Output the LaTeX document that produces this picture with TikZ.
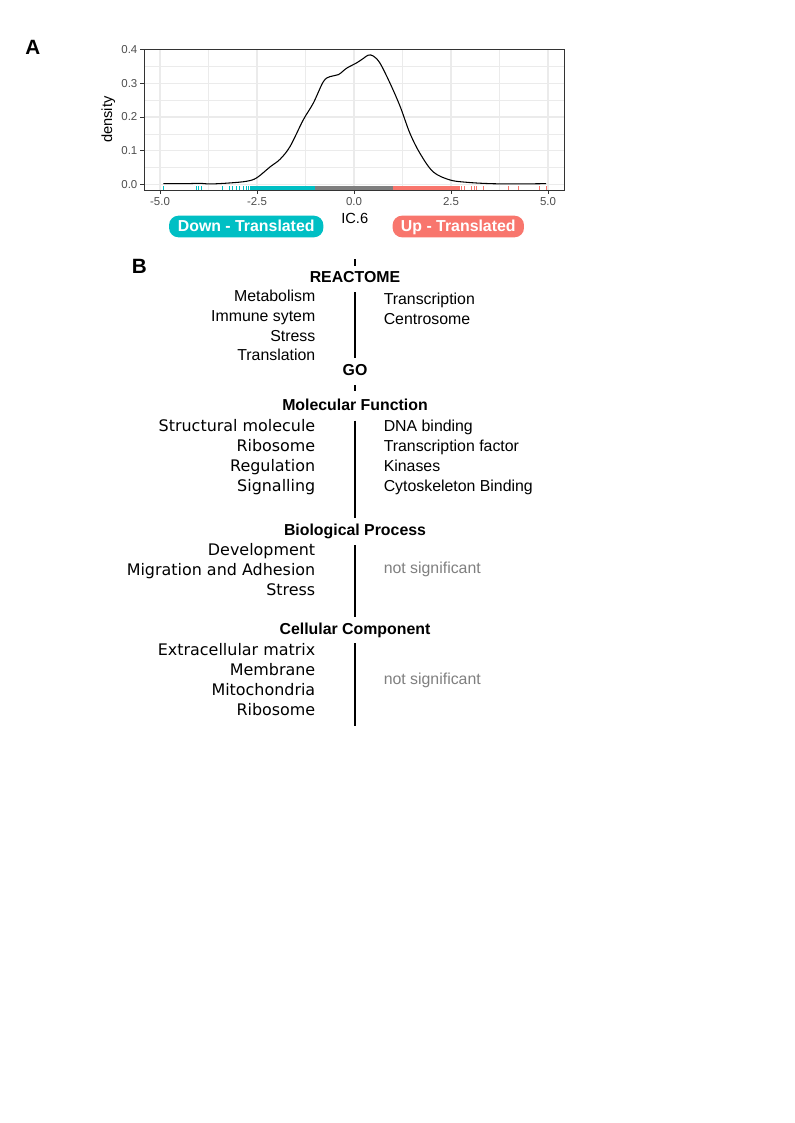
\documentclass[tikz,border=0pt]{standalone}
\usepackage{fontspec}
\setmainfont{Liberation Sans}
\newfontfamily\dejavu{DejaVu Sans}
\definecolor{downcol}{HTML}{00BFC4}
\definecolor{upcol}{HTML}{F8766D}
\definecolor{midcol}{HTML}{7F7F7F}
\definecolor{gridcol}{HTML}{EBEBEB}
\definecolor{tickcol}{HTML}{4D4D4D}
\definecolor{framecol}{HTML}{333333}

\begin{document}
\begin{tikzpicture}[x=0.75pt, y=-0.75pt,
  every node/.style={inner sep=0pt},
  panel/.style={font=\fontsize{15.5}{18}\selectfont\bfseries, anchor=base west},
  head/.style={font=\fontsize{11.9}{15}\selectfont\bfseries, anchor=base},
  lhs/.style={font=\fontsize{11.9}{15}\selectfont, anchor=base east},
  golhs/.style={font=\dejavu\fontsize{11.95}{15}\selectfont, anchor=base east},
  rhs/.style={font=\fontsize{11.9}{15}\selectfont, anchor=base west},
  ns/.style={rhs, text=midcol},
  divider/.style={line width=1.1pt},
  pill/.style={rounded corners=7pt, minimum height=16.2pt, text=white,
    font=\fontsize{11.9}{14}\selectfont\bfseries, text height=7.4pt, text depth=0pt},
  majorgrid/.style={gridcol, line width=0.8pt},
  minorgrid/.style={gridcol, line width=0.4pt},
  ticklab/.style={text=tickcol, font=\fontsize{8.6}{10}\selectfont},
  axtitle/.style={font=\fontsize{11}{13}\selectfont},
  rugtick/.style={line width=0.75pt}]
  \useasboundingbox (0,0) rectangle (794,1123);

  % panel A
  \node[panel] (A) at (25,55) {A};
  \begin{scope}[shift={(265.5pt,-138.225pt)}, x=29.1pt, y=252.375pt]
    \foreach \x in {-3.75,-1.25,1.25,3.75}
      \draw[minorgrid] (\x,-0.01694) -- (\x,0.4012);
    \foreach \y in {0.05,0.15,0.25,0.35}
      \draw[minorgrid] (-5.41,\y) -- (5.43,\y);
    \foreach \x in {-5,-2.5,0,2.5,5}
      \draw[majorgrid] (\x,-0.01694) -- (\x,0.4012);
    \foreach \y in {0,0.1,0.2,0.3,0.4}
      \draw[majorgrid] (-5.41,\y) -- (5.43,\y);

    % rug
    \fill[downcol] (-2.68,-0.01694) rectangle (-1.0,-0.0042);
    \fill[midcol] (-1.0,-0.01694) rectangle (1.0,-0.0042);
    \fill[upcol] (1.0,-0.01694) rectangle (2.72,-0.0042);
    \foreach \x in {-4.91,-4.07,-4.0,-3.94,-3.39,-3.2,-3.12,-3.04,-2.94,-2.86,-2.78,-2.72}
      \draw[rugtick, downcol] (\x,-0.01694) -- (\x,-0.0042);
    \foreach \x in {2.78,2.85,3.03,3.1,3.16,3.35,3.98,4.23,4.77,4.95}
      \draw[rugtick, upcol] (\x,-0.01694) -- (\x,-0.0042);

    % density
    \draw[line width=0.8pt, line join=round] plot[smooth, tension=0.55] coordinates {
      (-4.91,0.002) (-4.3,0.002) (-3.97,0.003) (-3.7,0.001) (-3.2,0.004)
      (-2.77,0.009) (-2.51,0.019) (-2.16,0.052) (-1.91,0.074) (-1.65,0.112)
      (-1.31,0.191) (-1.05,0.241) (-0.79,0.305) (-0.62,0.32) (-0.40,0.326)
      (-0.19,0.345) (0.07,0.361) (0.24,0.374) (0.37,0.384) (0.50,0.381)
      (0.67,0.36) (0.93,0.30) (1.19,0.231) (1.44,0.152) (1.70,0.092)
      (2.04,0.037) (2.47,0.013) (2.90,0.006) (3.5,0.002) (4.2,0.001) (4.95,0.002)};

    \draw[framecol, line width=0.6pt] (-5.41,-0.01694) rectangle (5.43,0.4012);
    \foreach \x/\t in {-5/-5.0,-2.5/-2.5,0/0.0,2.5/2.5,5/5.0} {
      \draw[framecol, line width=0.6pt] (\x,-0.01694) -- (\x,-0.0278);
      \node[ticklab, anchor=base] (xt\t) at (\x,-0.0636) {\t};
    }
    \foreach \y/\t in {0/0.0,0.1/0.1,0.2/0.2,0.3/0.3,0.4/0.4} {
      \draw[framecol, line width=0.6pt] (-5.41,\y) -- (-5.505,\y);
      \node[ticklab, anchor=east] (yt\t) at (-5.577,\y) {\t};
    }
  \end{scope}
  \node[axtitle, rotate=90] (ylab) at (108.3,119.7) {density};
  \node[axtitle, anchor=base] (xlab) at (354.7,223.3) {IC.6};
  \node[pill, fill=downcol, minimum width=115.7pt] (down) at (246.2,226.5) {Down - Translated};
  \node[pill, fill=upcol, minimum width=98.5pt] (up) at (458.3,226.5) {Up - Translated};

  % panel B
  \node[panel] (B) at (131.5,273.3) {B};
  \node[head] (react) at (355,282.3) {REACTOME};
  \node[head] (go) at (355,375.7) {GO};
  \node[head] (mf) at (355,410) {Molecular Function};
  \node[head] (bp) at (355,535) {Biological Process};
  \node[head] (cc) at (355,634) {Cellular Component};

  \foreach \a/\b in {259/266, 292/358.3, 385/390.7, 420.7/518.3, 545/617.3, 643.3/726}
    \draw[divider] (355,\a) -- (355,\b);

  \foreach \t [count=\i] in {Metabolism, Immune sytem, Stress, Translation}
    \node[lhs] (reactL\i) at (315.5,281.7+19.8*\i) {\t};
  \foreach \t [count=\i] in {Transcription, Centrosome}
    \node[rhs] (reactR\i) at (383.5,284.5+20*\i) {\t};

  \foreach \t [count=\i] in {Structural molecule, Ribosome, Regulation, Signalling}
    \node[golhs] (mfL\i) at (315.5,411+20*\i) {\t};
  \foreach \t [count=\i] in {DNA binding, Transcription factor, Kinases, Cytoskeleton Binding}
    \node[rhs] (mfR\i) at (383.5,411+20*\i) {\t};

  \foreach \t [count=\i] in {Development, Migration and Adhesion, Stress}
    \node[golhs] (bpL\i) at (315.5,535+20*\i) {\t};
  \node[ns] (bpR) at (383.5,573.3) {not significant};

  \foreach \t [count=\i] in {Extracellular matrix, Membrane, Mitochondria, Ribosome}
    \node[golhs] (ccL\i) at (315.5,635.7+20*\i) {\t};
  \node[ns] (ccR) at (383.5,684.3) {not significant};
\end{tikzpicture}
\end{document}
